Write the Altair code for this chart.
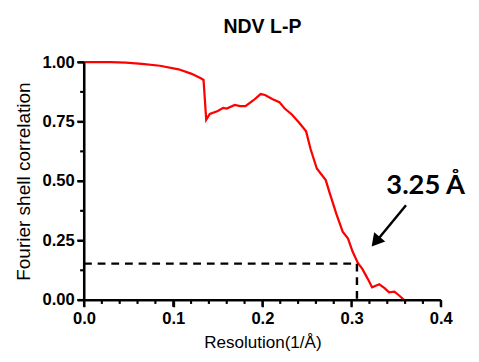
import altair as alt
import pandas as pd

# FSC curve
res = [0.000, 0.030, 0.047, 0.065, 0.085, 0.106, 0.120, 0.131, 0.134, 0.137,
       0.139, 0.141, 0.150, 0.156, 0.160, 0.169, 0.175, 0.181, 0.190, 0.198,
       0.203, 0.211, 0.219, 0.225, 0.233, 0.241, 0.249, 0.254, 0.261, 0.271,
       0.276, 0.283, 0.290, 0.296, 0.301, 0.307, 0.312, 0.318, 0.323, 0.331,
       0.337, 0.342, 0.348, 0.353, 0.359]
fsc = [1.000, 1.000, 0.998, 0.993, 0.985, 0.970, 0.952, 0.932, 0.925, 0.758,
       0.770, 0.782, 0.795, 0.808, 0.805, 0.820, 0.815, 0.815, 0.840, 0.866,
       0.862, 0.845, 0.832, 0.805, 0.780, 0.746, 0.709, 0.635, 0.553, 0.504,
       0.443, 0.361, 0.287, 0.258, 0.205, 0.156, 0.131, 0.090, 0.053, 0.066,
       0.050, 0.032, 0.035, 0.020, 0.000]

# threshold guide
thr_x = [0.0, 0.306, 0.306]
thr_y = [0.153, 0.153, 0.0]

# annotation
ann_text = ["3.25 Å"]
ann_x = [0.383]
ann_y = [0.478]
arrow_x = [0.361, 0.328]
arrow_y = [0.398, 0.248]
head_x = [0.327]
head_y = [0.245]

title = "NDV L-P"
x_major = [0.0, 0.1, 0.2, 0.3, 0.4]
x_minor = [0.02, 0.04, 0.06, 0.08, 0.12, 0.14, 0.16, 0.18, 0.22, 0.24, 0.26, 0.28,
           0.32, 0.34, 0.36, 0.38]
y_major = [0.0, 0.25, 0.5, 0.75, 1.0]
y_minor = [0.125, 0.375, 0.625, 0.875]

X_DOM = [0.0, 0.4]
Y_DOM = [0.0, 1.0]
W, H = 366, 244

df = pd.DataFrame({"x": res, "y": fsc})
thr = pd.DataFrame({"x": thr_x, "y": thr_y, "o": [0, 1, 2]})
ann = pd.DataFrame({"x": ann_x, "y": ann_y, "t": ann_text})
arr = pd.DataFrame({"x": arrow_x, "y": arrow_y})
head = pd.DataFrame({"x": head_x, "y": head_y})

# axis lines and tick marks as thin filled rectangles built from the tick lists
kx = (X_DOM[1] - X_DOM[0]) / W
ky = (Y_DOM[1] - Y_DOM[0]) / H
hw = 1.1  # half line width, px
rows = [
    {"x": X_DOM[0] - hw * kx, "x2": X_DOM[1], "y": Y_DOM[0] - hw * ky, "y2": Y_DOM[0] + hw * ky},
    {"x": X_DOM[0] - hw * kx, "x2": X_DOM[0] + hw * kx, "y": Y_DOM[0] - hw * ky, "y2": Y_DOM[1]},
]
for vals, L in ((x_major, 7), (x_minor, 4)):
    for v in vals:
        rows.append({"x": v - hw * kx, "x2": v + hw * kx, "y": Y_DOM[0] - L * ky, "y2": Y_DOM[0]})
for vals, L in ((y_major, 7), (y_minor, 4)):
    for v in vals:
        rows.append({"x": X_DOM[0] - L * kx, "x2": X_DOM[0], "y": v - hw * ky, "y2": v + hw * ky})
frame = pd.DataFrame(rows)

xs = alt.Scale(domain=X_DOM, nice=False, zero=False)
ys = alt.Scale(domain=Y_DOM, nice=False, zero=False)

common = dict(labelFont="Liberation Sans", labelFontWeight="bold", labelFontSize=17,
              labelColor="black", titleFont="Liberation Sans", titleFontWeight="normal",
              titleColor="black", domainColor="#101010", domainWidth=2,
              tickColor="#101010", tickWidth=2, tickSize=7, grid=False, labelFlush=False)

x_axis = alt.Axis(values=x_major, format=".1f", labelPadding=4,
                  title="Resolution(1/Å)", titleFontSize=17.5, titlePadding=8, **common)
y_axis = alt.Axis(values=y_major, format=".2f", labelPadding=3,
                  title="Fourier shell correlation", titleFontSize=19.5, titlePadding=9, **common)

line = alt.Chart(df).mark_line(color="#ff0000", strokeWidth=2.3).encode(
    x=alt.X("x:Q", scale=xs, axis=x_axis),
    y=alt.Y("y:Q", scale=ys, axis=y_axis),
)

axes_frame = alt.Chart(frame).mark_rect(color="#000000", clip=False).encode(
    x="x:Q", x2="x2:Q", y="y:Q", y2="y2:Q"
)

dash = alt.Chart(thr).mark_line(color="black", strokeWidth=2.5, strokeDash=[8, 6]).encode(
    x="x:Q", y="y:Q", order="o:Q"
)

arrow = alt.Chart(arr).mark_line(color="black", strokeWidth=2.5).encode(x="x:Q", y="y:Q")
arrow_head = alt.Chart(head).mark_point(shape="triangle-up", filled=True, color="black",
                                        size=220, angle=220, opacity=1).encode(x="x:Q", y="y:Q")

text = alt.Chart(ann).mark_text(font="Lato", fontWeight="bold", fontSize=28,
                                color="black", align="center", baseline="middle").encode(
    x="x:Q", y="y:Q", text="t:N"
)

chart = alt.layer(line, axes_frame, dash, arrow, arrow_head, text).properties(
    width=W, height=H,
    title=alt.Title(title, font="Liberation Sans", fontSize=20, fontWeight="bold",
                    color="black", anchor="middle", offset=17),
).configure_view(strokeWidth=0)

chart.save("out.html", embed_options={"renderer": "svg", "actions": False})
